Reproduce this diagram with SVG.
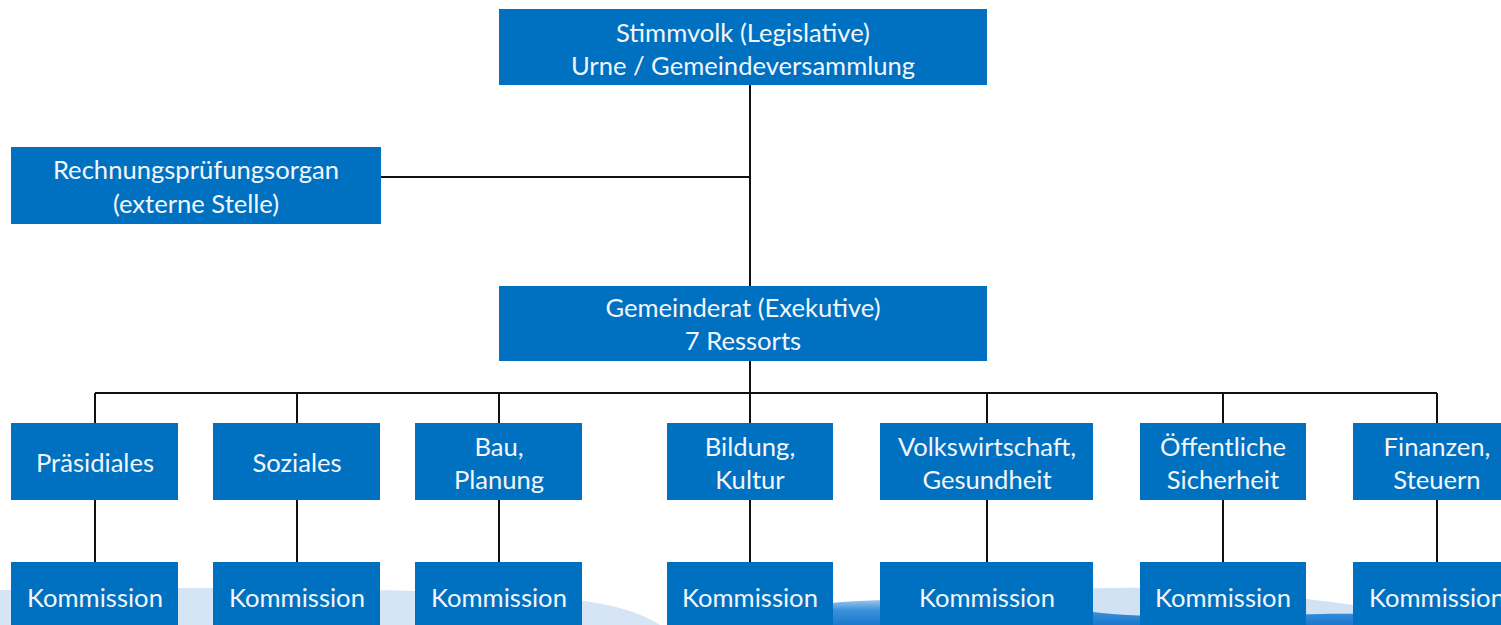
<svg xmlns="http://www.w3.org/2000/svg" width="1501" height="625" viewBox="0 0 1501 625">
<defs>
<style>
.box{fill:#0070C0;}
.t{font-family:Lato,"Open Sans","Liberation Sans",sans-serif;font-size:25.6px;fill:#F2F6FB;text-anchor:middle;dominant-baseline:central;}
.c{stroke:#111;stroke-width:2;fill:none;}
</style>
<linearGradient id="sw" x1="0" y1="0" x2="0" y2="1">
<stop offset="0" stop-color="#9cc8ee"/>
<stop offset="0.4" stop-color="#3d92da"/>
<stop offset="1" stop-color="#1a78cc"/>
</linearGradient>
</defs>
<rect width="1501" height="625" fill="#fff"/>
<g id="background">
<path d="M0,590 C200,586 420,588 560,598 C610,603 640,612 660,625 L0,625 Z" fill="#d6e5f5"/>
<path d="M1060,590 C1150,584 1250,590 1360,606 L1360,625 L1060,625 Z" fill="#d0e2f4"/>
<path d="M820,604 C900,596 1000,600 1093,612 C1180,622 1280,612 1380,614 L1380,625 L820,625 Z" fill="url(#sw)"/>
</g>
<g id="connectors">
<path class="c" d="M750,85 V286"/>
<path class="c" d="M381,177 H750"/>
<path class="c" d="M750,361 V423"/>
<path class="c" d="M95,393 H1437"/>
<path class="c" d="M95,393 V423 M297,393 V423 M499,393 V423 M987,393 V423 M1223,393 V423 M1437,393 V423"/>
<path class="c" d="M95,500 V562 M297,500 V562 M499,500 V562 M750,500 V562 M987,500 V562 M1223,500 V562 M1437,500 V562"/>
</g>
<g id="stimmvolk"><rect class="box" x="499" y="9" width="488" height="76"/><text class="t" x="743" y="32">Stimmvolk (Legislative)</text><text class="t" x="743" y="65">Urne / Gemeindeversammlung</text></g>
<g id="rechnungspruefung"><rect class="box" x="11" y="147" width="370" height="77"/><text class="t" x="196" y="169">Rechnungsprüfungsorgan</text><text class="t" x="196" y="203">(externe Stelle)</text></g>
<g id="gemeinderat"><rect class="box" x="499" y="286" width="488" height="75"/><text class="t" x="743" y="307">Gemeinderat (Exekutive)</text><text class="t" x="743" y="340">7 Ressorts</text></g>
<g id="praesidiales"><rect class="box" x="11" y="423" width="167" height="77"/><text class="t" x="95" y="462">Präsidiales</text></g>
<g id="soziales"><rect class="box" x="213" y="423" width="167" height="77"/><text class="t" x="297" y="462">Soziales</text></g>
<g id="bau"><rect class="box" x="415" y="423" width="167" height="77"/><text class="t" x="499" y="446">Bau,</text><text class="t" x="499" y="479">Planung</text></g>
<g id="bildung"><rect class="box" x="667" y="423" width="166" height="77"/><text class="t" x="750" y="446">Bildung,</text><text class="t" x="750" y="479">Kultur</text></g>
<g id="volkswirtschaft"><rect class="box" x="880" y="423" width="213" height="77"/><text class="t" x="987" y="446">Volkswirtschaft,</text><text class="t" x="987" y="479">Gesundheit</text></g>
<g id="sicherheit"><rect class="box" x="1140" y="423" width="166" height="77"/><text class="t" x="1223" y="446">Öffentliche</text><text class="t" x="1223" y="479">Sicherheit</text></g>
<g id="finanzen"><rect class="box" x="1353" y="423" width="168" height="77"/><text class="t" x="1437" y="446">Finanzen,</text><text class="t" x="1437" y="479">Steuern</text></g>
<g id="kommission1"><rect class="box" x="11" y="562" width="167" height="70"/><text class="t" x="95" y="597">Kommission</text></g>
<g id="kommission2"><rect class="box" x="213" y="562" width="167" height="70"/><text class="t" x="297" y="597">Kommission</text></g>
<g id="kommission3"><rect class="box" x="415" y="562" width="167" height="70"/><text class="t" x="499" y="597">Kommission</text></g>
<g id="kommission4"><rect class="box" x="667" y="562" width="166" height="70"/><text class="t" x="750" y="597">Kommission</text></g>
<g id="kommission5"><rect class="box" x="880" y="562" width="213" height="70"/><text class="t" x="987" y="597">Kommission</text></g>
<g id="kommission6"><rect class="box" x="1140" y="562" width="166" height="70"/><text class="t" x="1223" y="597">Kommission</text></g>
<g id="kommission7"><rect class="box" x="1353" y="562" width="168" height="70"/><text class="t" x="1437" y="597">Kommission</text></g>
</svg>
